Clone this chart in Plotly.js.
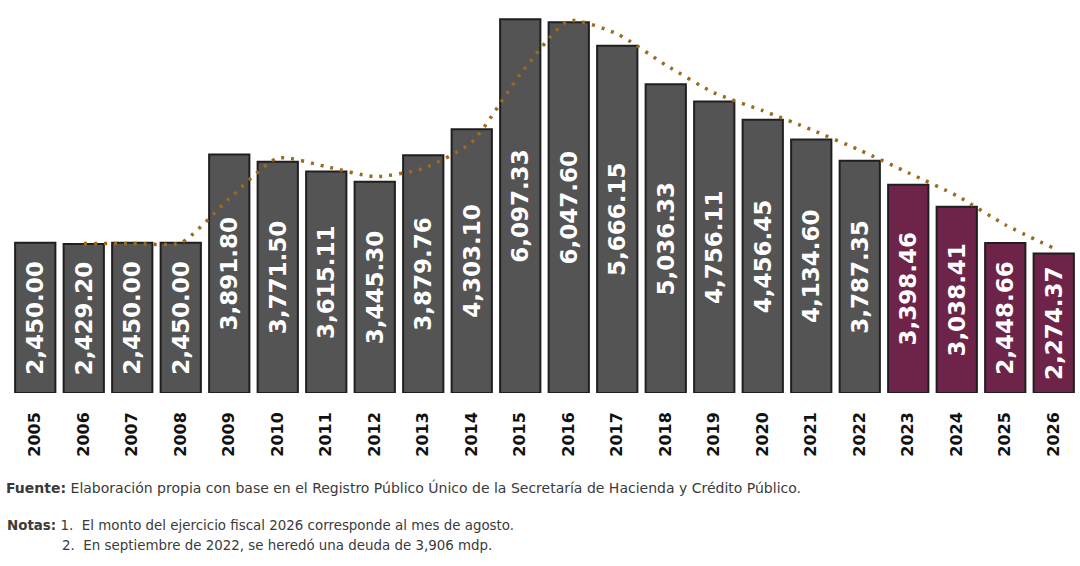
<!DOCTYPE html>
<html>
<head>
<meta charset="utf-8">
<script src="https://cdn.plot.ly/plotly-3.0.1.min.js"></script>
<style>
  html, body { margin: 0; padding: 0; background: #ffffff; }
  #chart { width: 1080px; height: 566px; }
</style>
</head>
<body>
<div id="chart"></div>
<script>
// Deuda pública por ejercicio fiscal (mdp), 2005–2026.

const years = [
    "2005", "2006", "2007", "2008", "2009", "2010", "2011", "2012", "2013", "2014", "2015",
    "2016", "2017", "2018", "2019", "2020", "2021", "2022", "2023", "2024", "2025", "2026",
];
const debtValues = [
    2450.00, 2429.20, 2450.00, 2450.00, 3891.80, 3771.50, 3615.11, 3445.30, 3879.76, 4303.10, 6097.33,
    6047.60, 5666.15, 5036.33, 4756.11, 4456.45, 4134.60, 3787.35, 3398.46, 3038.41, 2448.66, 2274.37,
];
const debtLabels = [
    "2,450.00", "2,429.20", "2,450.00", "2,450.00", "3,891.80", "3,771.50", "3,615.11", "3,445.30",
    "3,879.76", "4,303.10", "6,097.33", "6,047.60", "5,666.15", "5,036.33", "4,756.11", "4,456.45",
    "4,134.60", "3,787.35", "3,398.46", "3,038.41", "2,448.66", "2,274.37",
];
// dotted trend line (starts at 2006)
const trendValues = [
    null, 2440, 2440, 2450, 3171, 3832, 3693, 3530, 3663, 4091, 5200,
    6072, 5857, 5351, 4896, 4606, 4296, 3961, 3593, 3218, 2744, 2362,
];

const GRAY = "#545454";
const PURPLE = "#6e2348";
const barColors = years.map(y => (+y >= 2023 ? PURPLE : GRAY));

const bars = {
    type: "bar",
    x: years,
    y: debtValues,
    text: debtLabels,
    textposition: "inside",
    insidetextanchor: "middle",
    textangle: -90,
    constraintext: "none",
    textfont: { family: "DejaVu Sans", size: 23, color: "#ffffff", weight: "bold" },
    marker: { color: barColors, line: { color: "#1f1f1f", width: 2 } },
    hoverinfo: "skip",
};

const trend = {
    type: "scatter",
    mode: "lines",
    x: years,
    y: trendValues,
    line: { color: "#9a6a1f", width: 3.5, dash: "3px,7px", shape: "spline", smoothing: 0.6 },
    hoverinfo: "skip",
};

const sourceFont = { family: "DejaVu Sans", size: 14, color: "#3a3a3a" };
const noteFont = { family: "DejaVu Sans", size: 13.4, color: "#3a3a3a" };
const M_L = 11, M_R = 2, M_T = 0, M_B = 173;
const plotW = 1080 - M_L - M_R, plotH = 566 - M_T - M_B;
const px = v => (v - M_L) / plotW;           // page x -> paper x
const py = v => (plotH + M_T - v) / plotH;   // page y -> paper y

const layout = {
    width: 1080,
    height: 566,
    paper_bgcolor: "#ffffff",
    plot_bgcolor: "#ffffff",
    margin: { t: M_T, b: M_B, l: M_L, r: M_R },
    bargap: 0.17,
    showlegend: false,
    xaxis: {
        type: "category",
        tickangle: -90,
        ticks: "",
        showline: false,
        showgrid: false,
        ticklabelstandoff: 15,
        tickfont: { family: "DejaVu Sans", size: 16, color: "#111111", weight: "bold" },
    },
    yaxis: {
        range: [0, 6411],
        visible: false,
        showgrid: false,
        zeroline: false,
    },
    annotations: [
        {
            xref: "paper", yref: "paper", x: px(4), y: py(487),
            xanchor: "left", yanchor: "middle", showarrow: false, font: sourceFont,
            text: "<b>Fuente:</b> Elaboración propia con base en el Registro Público Único de la Secretaría de Hacienda y Crédito Público.",
        },
        {
            xref: "paper", yref: "paper", x: px(5), y: py(525),
            xanchor: "left", yanchor: "middle", showarrow: false, font: noteFont,
            text: "<b>Notas:</b> 1.  El monto del ejercicio fiscal 2026 corresponde al mes de agosto.",
        },
        {
            xref: "paper", yref: "paper", x: px(60), y: py(545),
            xanchor: "left", yanchor: "middle", showarrow: false, font: noteFont,
            text: "2.  En septiembre de 2022, se heredó una deuda de 3,906 mdp.",
        },
    ],
};

Plotly.newPlot("chart", [bars, trend], layout, { displayModeBar: false, staticPlot: true });
</script>
</body>
</html>
